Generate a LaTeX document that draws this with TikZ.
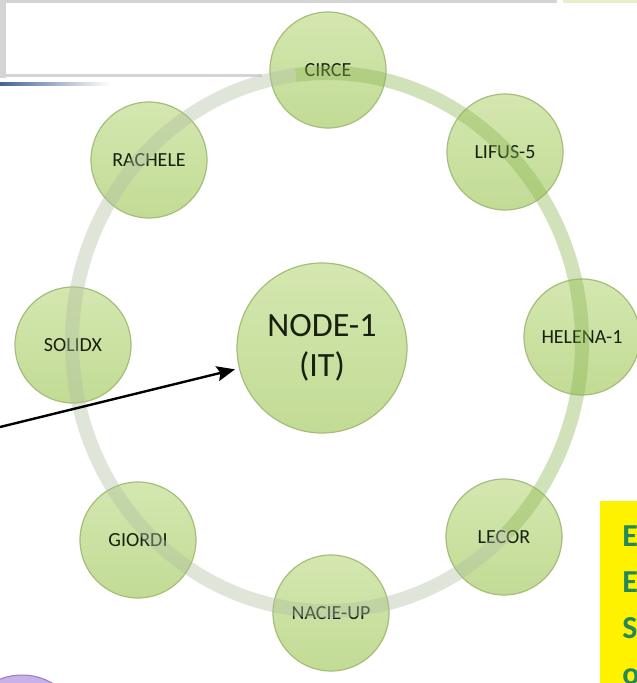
\documentclass[tikz,border=0pt]{standalone}
\usepackage{fontspec}
\setmainfont{Carlito}
\usetikzlibrary{arrows.meta}

\definecolor{satfill}{RGB}{194,219,148}
\definecolor{sattop}{RGB}{212,231,176}
\definecolor{satedge}{RGB}{166,190,122}
\definecolor{labeltext}{RGB}{24,32,16}
\definecolor{ringgray}{RGB}{176,190,162}
\definecolor{ringgreen}{RGB}{140,182,84}
\definecolor{framegray}{RGB}{212,212,212}
\definecolor{ruleblue}{RGB}{70,100,150}
\definecolor{cornertint}{RGB}{232,238,204}
\definecolor{notecol}{RGB}{36,136,92}
\definecolor{lilac}{RGB}{200,176,232}
\definecolor{lilacedge}{RGB}{150,120,200}

\begin{document}
\begin{tikzpicture}[x=1pt, y=-1pt, >={Stealth[length=18pt,width=15pt,inset=3pt]}, semithick,
    facility/.style={circle, draw=satedge, line width=1.2pt, top color=sattop, bottom color=satfill,
        minimum size=116pt, inner sep=0pt, text=labeltext, font=\fontsize{20}{22}\selectfont},
    hub/.style={facility, minimum size=170pt, align=center, font=\fontsize{34}{40}\selectfont},
    ring/.style={line width=14pt, opacity=0.4}]

    \useasboundingbox (0,0) rectangle (637,683);
    \clip (0,0) rectangle (637,683);
    \fill[white] (0,0) rectangle (637,683);

    \fill[framegray] (0,0) rectangle (557,2.5);
    \fill[framegray] (0,0) rectangle (6,78);
    \fill[framegray] (0,74) rectangle (262,77);
    \shade[left color=ruleblue, right color=white] (0,82) rectangle (110,85);
    \fill[cornertint] (563,0) rectangle (637,3);
    \draw[fill=lilac, draw=lilacedge, line width=1pt] (22,735) circle [radius=60];

    \node[hub] (hub) at (322,348) {NODE-1\\(IT)};

    \node[facility] (circe) at (328,70) {CIRCE};
    \node[facility] (lifus) at (505,152) {LIFUS-5};
    \node[facility] (helena) at (582,337) {HELENA-1};
    \node[facility] (lecor) at (504,537) {LECOR};
    \node[facility] (nacie) at (331,613) {NACIE-UP};
    \node[facility] (giordi) at (138,540) {GIORDI};
    \node[facility] (solidx) at (73,345) {SOLIDX};
    \node[facility] (rachele) at (149,160) {RACHELE};

    \coordinate (ringc) at (327,342);
    \draw[ring, ringgreen] (ringc) ++(-97:255 and 269) arc [start angle=-97, end angle=45, x radius=255, y radius=269];
    \draw[ring, ringgray] (ringc) ++(45:255 and 269) arc [start angle=45, end angle=263, x radius=255, y radius=269];

    \coordinate (src) at (0,427);
    \draw[->, line width=2.4pt, shorten >=4pt] (src) -- (hub);

    \fill[yellow] (600,501) rectangle (650,700);
    \node[anchor=north west, inner sep=0pt, align=left, text=notecol,
        font=\bfseries\fontsize{32}{46}\selectfont] (note) at (622,525) {E\\E\\S\\o};
\end{tikzpicture}
\end{document}
